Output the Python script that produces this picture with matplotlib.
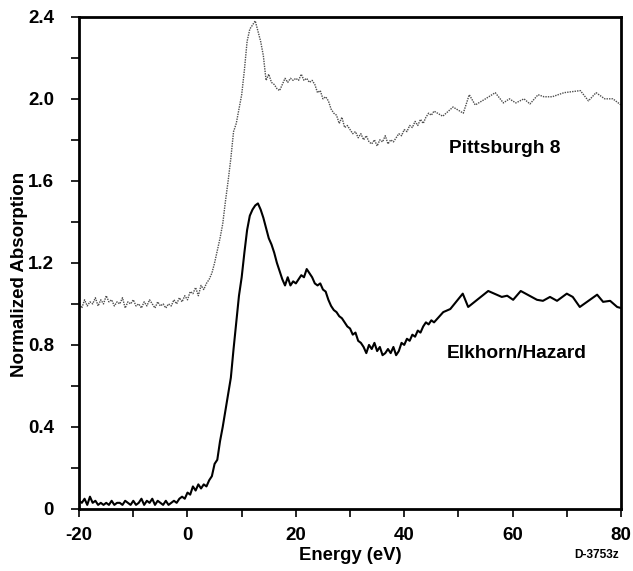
import matplotlib
matplotlib.use("Agg")
import matplotlib.pyplot as plt
from matplotlib.ticker import MultipleLocator, FuncFormatter

plt.rcParams['font.family'] = ['Liberation Sans', 'DejaVu Sans']
plt.rcParams['font.weight'] = 'bold'

# scanned region, 0.5 eV steps from -20 to 45.5 eV
scan_energy = [
    -20.0, -19.5, -19.0, -18.5, -18.0, -17.5, -17.0, -16.5, -16.0, -15.5,
    -15.0, -14.5, -14.0, -13.5, -13.0, -12.5, -12.0, -11.5, -11.0, -10.5,
    -10.0, -9.5, -9.0, -8.5, -8.0, -7.5, -7.0, -6.5, -6.0, -5.5,
    -5.0, -4.5, -4.0, -3.5, -3.0, -2.5, -2.0, -1.5, -1.0, -0.5,
    0.0, 0.5, 1.0, 1.5, 2.0, 2.5, 3.0, 3.5, 4.0, 4.5,
    5.0, 5.5, 6.0, 6.5, 7.0, 7.5, 8.0, 8.5, 9.0, 9.5,
    10.0, 10.5, 11.0, 11.5, 12.0, 12.5, 13.0, 13.5, 14.0, 14.5,
    15.0, 15.5, 16.0, 16.5, 17.0, 17.5, 18.0, 18.5, 19.0, 19.5,
    20.0, 20.5, 21.0, 21.5, 22.0, 22.5, 23.0, 23.5, 24.0, 24.5,
    25.0, 25.5, 26.0, 26.5, 27.0, 27.5, 28.0, 28.5, 29.0, 29.5,
    30.0, 30.5, 31.0, 31.5, 32.0, 32.5, 33.0, 33.5, 34.0, 34.5,
    35.0, 35.5, 36.0, 36.5, 37.0, 37.5, 38.0, 38.5, 39.0, 39.5,
    40.0, 40.5, 41.0, 41.5, 42.0, 42.5, 43.0, 43.5, 44.0, 44.5,
    45.0, 45.5,
]

pitt_scan = [
    1.00, 0.98, 1.02, 0.99, 1.01, 1.00, 1.03, 0.99, 1.02, 1.00,
    1.04, 1.01, 1.02, 0.99, 1.01, 1.00, 1.03, 0.98, 1.01, 1.00,
    1.02, 0.99, 1.00, 0.98, 1.01, 0.99, 1.02, 1.00, 0.98, 1.01,
    0.99, 1.00, 0.98, 1.00, 0.99, 1.02, 1.00, 1.03, 1.01, 1.04,
    1.02, 1.06, 1.05, 1.08, 1.04, 1.09, 1.07, 1.10, 1.12, 1.15,
    1.20, 1.26, 1.32, 1.39, 1.50, 1.60, 1.71, 1.84, 1.88, 1.95,
    2.02, 2.14, 2.28, 2.34, 2.36, 2.38, 2.33, 2.28, 2.21, 2.09,
    2.12, 2.08, 2.07, 2.05, 2.04, 2.07, 2.10, 2.08, 2.10, 2.09,
    2.10, 2.09, 2.12, 2.09, 2.10, 2.08, 2.09, 2.07, 2.03, 2.04,
    2.00, 2.01, 1.99, 1.95, 1.93, 1.92, 1.88, 1.91, 1.86, 1.87,
    1.85, 1.83, 1.84, 1.81, 1.83, 1.80, 1.82, 1.79, 1.78, 1.80,
    1.77, 1.80, 1.79, 1.82, 1.78, 1.80, 1.79, 1.81, 1.83, 1.82,
    1.85, 1.84, 1.87, 1.86, 1.89, 1.87, 1.90, 1.88, 1.91, 1.93,
    1.92, 1.94,
]

elk_scan = [
    0.04, 0.03, 0.05, 0.02, 0.06, 0.03, 0.04, 0.02, 0.03, 0.02,
    0.03, 0.02, 0.04, 0.02, 0.03, 0.03, 0.02, 0.04, 0.03, 0.02,
    0.04, 0.02, 0.03, 0.05, 0.02, 0.04, 0.03, 0.05, 0.02, 0.04,
    0.03, 0.02, 0.04, 0.02, 0.03, 0.04, 0.03, 0.05, 0.06, 0.05,
    0.08, 0.07, 0.11, 0.09, 0.12, 0.10, 0.12, 0.11, 0.14, 0.16,
    0.22, 0.24, 0.33, 0.40, 0.48, 0.56, 0.64, 0.78, 0.91, 1.04,
    1.13, 1.25, 1.36, 1.43, 1.46, 1.48, 1.49, 1.46, 1.42, 1.37,
    1.32, 1.29, 1.25, 1.20, 1.16, 1.12, 1.09, 1.13, 1.09, 1.11,
    1.10, 1.12, 1.14, 1.13, 1.17, 1.15, 1.13, 1.10, 1.09, 1.10,
    1.07, 1.06, 1.02, 0.99, 0.97, 0.96, 0.94, 0.93, 0.91, 0.89,
    0.88, 0.85, 0.86, 0.82, 0.81, 0.79, 0.76, 0.80, 0.78, 0.81,
    0.77, 0.79, 0.75, 0.76, 0.78, 0.76, 0.79, 0.75, 0.77, 0.81,
    0.80, 0.83, 0.82, 0.85, 0.84, 0.87, 0.86, 0.89, 0.91, 0.90,
    0.92, 0.91,
]

# coarser tail of each scan
pitt_tail_energy = [47.1, 49.0, 50.9, 52.0, 53.1, 55.0, 56.8, 58.3, 59.4, 60.6, 62.1,
                    63.2, 64.7, 65.8, 67.3, 69.5, 72.5, 74.0, 75.4, 77.0, 78.5, 80.0]
pitt_tail = [1.915, 1.96, 1.93, 2.02, 1.97, 2.00, 2.03, 1.98, 2.00, 1.98, 2.00,
             1.975, 2.02, 2.01, 2.01, 2.03, 2.04, 1.99, 2.03, 2.00, 2.00, 1.97]

elk_tail_energy = [47.2, 48.5, 50.8, 51.8, 55.5, 58.0, 59.0, 60.1, 61.5, 64.5, 65.6,
                   66.9, 68.2, 70.0, 71.1, 72.4, 75.6, 76.7, 78.0, 79.3, 80.0]
elk_tail = [0.96, 0.975, 1.05, 0.985, 1.063, 1.034, 1.04, 1.02, 1.063, 1.02, 1.015,
            1.034, 1.015, 1.05, 1.034, 0.985, 1.045, 1.01, 1.015, 0.985, 0.98]

fig = plt.figure(figsize=(6.33, 5.71), dpi=100)
ax = fig.add_axes([0.125, 0.1086, 0.856, 0.862])

ax.plot(scan_energy + pitt_tail_energy, pitt_scan + pitt_tail,
        color='0.3', lw=1.0, ls=(0, (1, 0.8)))
ax.plot(scan_energy + elk_tail_energy, elk_scan + elk_tail,
        color='black', lw=1.5)

ax.text(58.5, 1.76, 'Pittsburgh 8', ha='center', va='center', fontsize=13.8, fontweight='bold')
ax.text(60.8, 0.76, 'Elkhorn/Hazard', ha='center', va='center', fontsize=13.8, fontweight='bold')

ax.set_xlim(-20, 80)
ax.set_ylim(0, 2.4)
ax.xaxis.set_major_locator(MultipleLocator(20))
ax.xaxis.set_minor_locator(MultipleLocator(10))
ax.yaxis.set_major_locator(MultipleLocator(0.4))
ax.yaxis.set_minor_locator(MultipleLocator(0.2))
ax.xaxis.set_major_formatter(FuncFormatter(lambda v, p: '%d' % round(v)))
ax.yaxis.set_major_formatter(FuncFormatter(lambda v, p: '0' if abs(v) < 1e-9 else '%.1f' % v))
ax.tick_params(which='both', direction='out', length=6, width=1.2, top=False, right=False)
ax.tick_params(which='major', labelsize=13.5)
ax.tick_params(axis='x', which='major', pad=7)
ax.tick_params(axis='y', which='major', pad=12)

for s in ax.spines.values():
    s.set_linewidth(2)

ax.set_xlabel('Energy (eV)', fontsize=13.3, fontweight='bold', labelpad=2)
ax.set_ylabel('Normalized Absorption', fontsize=13.5, fontweight='bold')
ax.yaxis.set_label_coords(-0.095, 0.476)
fig.text(0.943, 0.028, 'D-3753z', fontsize=8.6, fontweight='bold', ha='center', va='center')

fig.savefig('out.png', dpi=100)
